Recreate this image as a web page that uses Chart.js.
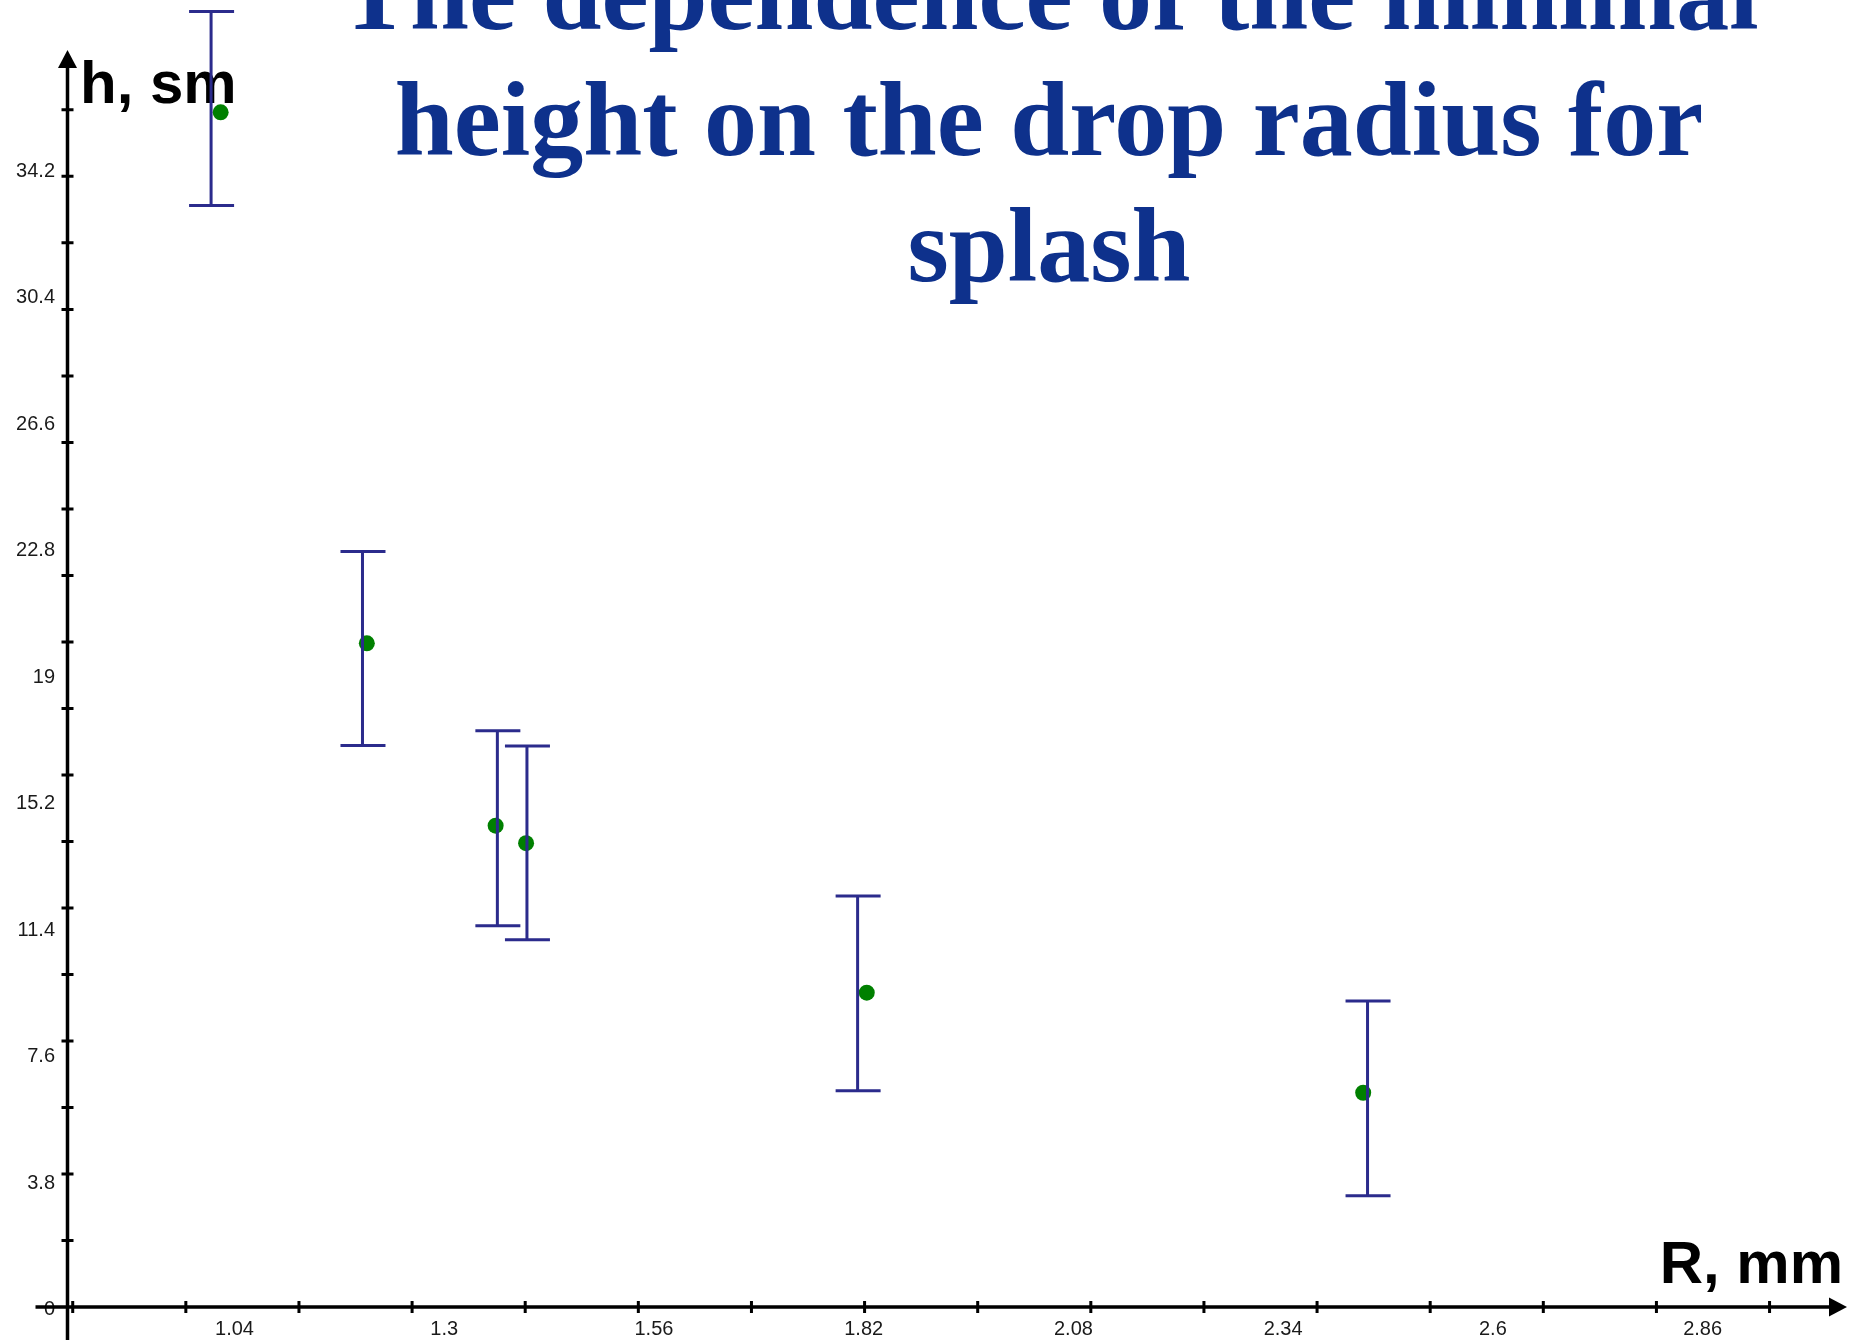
<!DOCTYPE html>
<html>
<head>
<meta charset="utf-8">
<title>Minimal splash height vs drop radius</title>
<script src="https://cdn.jsdelivr.net/npm/chart.js@4.4.0/dist/chart.umd.min.js"></script>
<style>
  html, body { margin: 0; padding: 0; background: #fff; }
  canvas { display: block; }
</style>
</head>
<body>
<canvas id="splash-chart" width="1858" height="1340"></canvas>
<script>
// Drop radius R (mm) and minimal height h (sm) for a splash
const radius = [1.080, 1.248, 1.396, 1.431, 1.8225, 2.393];
const height = [34.13, 18.96, 13.75, 13.25, 8.98, 6.12];

// Error bars: where each bar stands and where it ends
const barRadius = [1.069, 1.243, 1.398, 1.432, 1.812, 2.398];
const barLow = [31.47, 16.04, 10.89, 10.49, 6.18, 3.18];
const barHigh = [37.01, 21.58, 16.46, 16.03, 11.74, 8.74];

// Tick marks on the axes
const xMarks = [0.91, 1.04, 1.17, 1.3, 1.43, 1.56, 1.69, 1.82, 1.95, 2.08, 2.21, 2.34, 2.47, 2.6, 2.73, 2.86];
const yMarks = [1.9, 3.8, 5.7, 7.6, 9.5, 11.4, 13.3, 15.2, 17.1, 19, 20.9, 22.8, 24.7, 26.6, 28.5, 30.4, 32.3, 34.2];

// Tick labels
const xLabels = [1.04, 1.3, 1.56, 1.82, 2.08, 2.34, 2.6, 2.86];
const yLabels = [0, 3.8, 7.6, 11.4, 15.2, 19, 22.8, 26.6, 30.4, 34.2];

const titleLines = ["The dependence of the minimal", "height on the drop radius for", "splash"];

const tickFont = { family: '"Liberation Sans", Arial, sans-serif', size: 20 };

// Axes with arrows, crossing tick marks, axis names, error bars and title
const drawExtras = {
  id: "drawExtras",
  beforeDatasetsDraw(chart) {
    const { ctx, chartArea: a, scales: { x, y } } = chart;
    ctx.save();
    ctx.strokeStyle = "#000";
    ctx.fillStyle = "#000";

    // axis lines
    ctx.lineWidth = 3.5;
    ctx.beginPath();
    ctx.moveTo(a.left, a.top + 16);
    ctx.lineTo(a.left, chart.height);
    ctx.moveTo(a.left - 32, a.bottom);
    ctx.lineTo(a.right - 16, a.bottom);
    ctx.stroke();

    // arrow heads
    ctx.beginPath();
    ctx.moveTo(a.left, a.top);
    ctx.lineTo(a.left - 9.5, a.top + 18);
    ctx.lineTo(a.left + 9.5, a.top + 18);
    ctx.closePath();
    ctx.fill();
    ctx.beginPath();
    ctx.moveTo(a.right, a.bottom);
    ctx.lineTo(a.right - 18, a.bottom - 9.5);
    ctx.lineTo(a.right - 18, a.bottom + 9.5);
    ctx.closePath();
    ctx.fill();

    // tick marks
    ctx.lineWidth = 3;
    ctx.beginPath();
    xMarks.forEach((v) => {
      const px = x.getPixelForValue(v);
      ctx.moveTo(px, a.bottom - 6);
      ctx.lineTo(px, a.bottom + 6);
    });
    yMarks.forEach((v) => {
      const py = y.getPixelForValue(v);
      ctx.moveTo(a.left - 6, py);
      ctx.lineTo(a.left + 6, py);
    });
    ctx.stroke();

    // axis names
    ctx.font = 'bold 60px "Liberation Sans", Arial, sans-serif';
    ctx.textBaseline = "alphabetic";
    ctx.textAlign = "left";
    ctx.fillText("h, sm", a.left + 12.5, a.top + 53);
    ctx.textAlign = "right";
    ctx.fillText("R, mm", a.right - 4, a.bottom - 24);
    ctx.restore();
  },
  afterDatasetsDraw(chart) {
    const { ctx, scales: { x, y } } = chart;
    ctx.save();
    ctx.strokeStyle = "#2b2b8c";
    ctx.lineWidth = 3;
    barRadius.forEach((r, i) => {
      const px = x.getPixelForValue(r);
      const top = y.getPixelForValue(barHigh[i]);
      const bot = y.getPixelForValue(barLow[i]);
      ctx.beginPath();
      ctx.moveTo(px, top);
      ctx.lineTo(px, bot);
      ctx.moveTo(px - 22, top);
      ctx.lineTo(px + 23, top);
      ctx.moveTo(px - 22, bot);
      ctx.lineTo(px + 23, bot);
      ctx.stroke();
    });
    ctx.restore();
  },
  afterDraw(chart) {
    const { ctx } = chart;
    ctx.save();
    ctx.font = 'bold 106px "Liberation Serif", "Times New Roman", serif';
    ctx.fillStyle = "#0e318c";
    ctx.textAlign = "center";
    ctx.textBaseline = "alphabetic";
    titleLines.forEach((t, i) => ctx.fillText(t, 1049, 29 + i * 126));
    ctx.restore();
  },
};

const ctx = document.getElementById("splash-chart").getContext("2d");
const splashChart = new Chart(ctx, {
  type: "scatter",
  data: {
    datasets: [
      {
        label: "h(R)",
        data: radius.map((r, i) => ({ x: r, y: height[i] })),
        xAxisID: "x",
        yAxisID: "y",
        pointRadius: 8,
        pointBackgroundColor: "#008000",
        pointBorderWidth: 0,
        showLine: false,
        clip: false,
      },
    ],
  },
  options: {
    responsive: false,
    animation: false,
    devicePixelRatio: 1,
    layout: { padding: { left: 0, right: 11, top: 50, bottom: 0 } },
    plugins: {
      legend: { display: false },
      tooltip: { enabled: false },
      title: { display: false },
    },
    scales: {
      x: { type: "linear", display: false, min: 0.904, max: 2.949 },
      y: { type: "linear", display: false, min: 0, max: 35.91 },
      xLab: {
        type: "linear",
        position: "bottom",
        min: 0.833,
        max: 3.039,
        grid: { display: false, drawTicks: false },
        border: { display: false },
        afterBuildTicks: (s) => { s.ticks = xLabels.map((v) => ({ value: v })); },
        afterFit: (s) => { s.height = 33; },
        ticks: {
          autoSkip: false,
          maxRotation: 0,
          padding: 10,
          color: "#1a1a1a",
          font: tickFont,
          callback: (v) => String(+Number(v).toFixed(2)),
        },
      },
      yLab: {
        type: "linear",
        position: "left",
        min: 0.08,
        max: 37.84,
        grid: { display: false, drawTicks: false },
        border: { display: false },
        afterBuildTicks: (s) => { s.ticks = yLabels.map((v) => ({ value: v })); },
        afterFit: (s) => { s.width = 67.5; },
        ticks: {
          autoSkip: false,
          padding: 12.5,
          color: "#1a1a1a",
          font: tickFont,
          callback: (v) => String(+Number(v).toFixed(2)),
        },
      },
    },
  },
  plugins: [drawExtras],
});
</script>
</body>
</html>
